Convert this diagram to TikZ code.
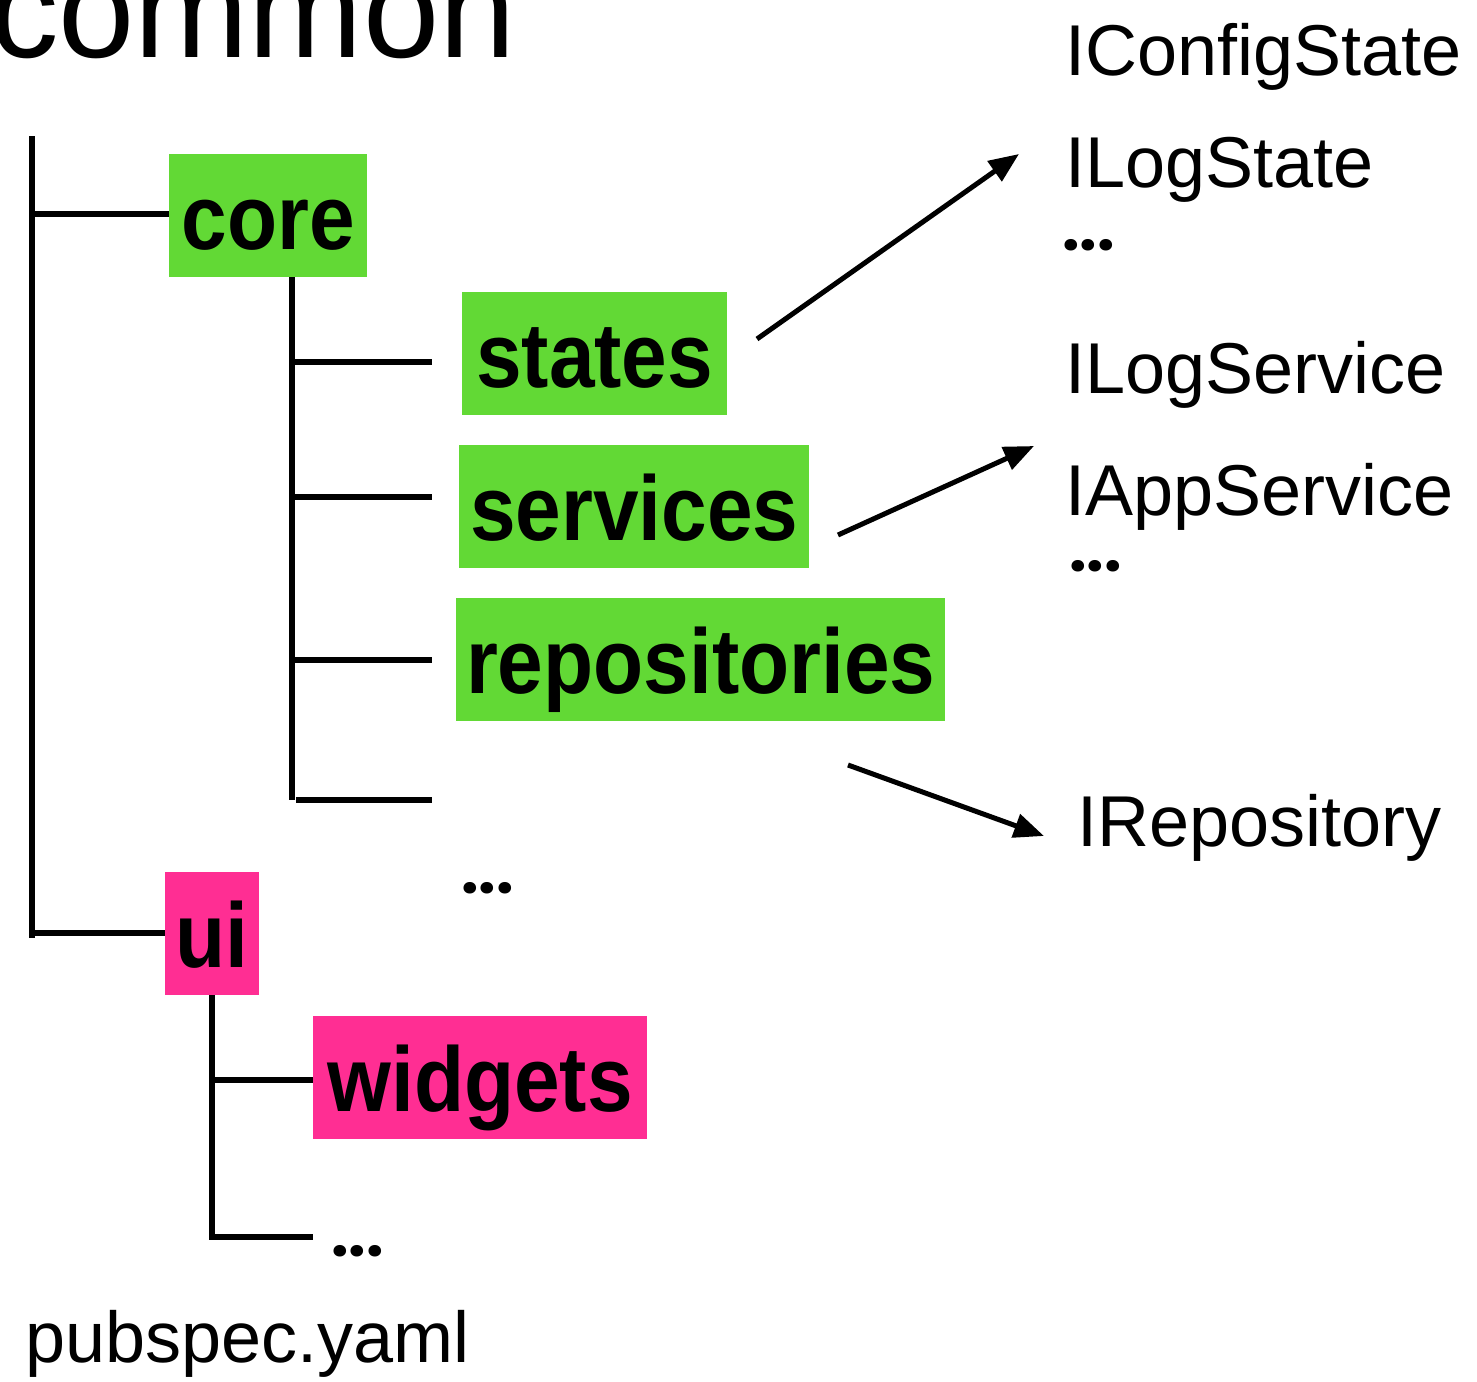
\documentclass[tikz,border=0pt]{standalone}
\usepackage{fontspec}
\setmainfont{Liberation Sans}
\newfontfamily\dotfont{Poppins}
\usetikzlibrary{arrows.meta}
\definecolor{coregreen}{RGB}{98,217,53}
\definecolor{uipink}{RGB}{255,46,147}
\newcommand\tallbold[1]{\scalebox{1}[1.12]{#1}}
\begin{document}
\begin{tikzpicture}[x=1pt,y=-1pt,
  tree/.style={line width=6.5pt},
  link/.style={line width=5pt,-{Triangle[length=30pt,width=24pt]}},
  folder/.style={anchor=north west, inner sep=0pt, minimum height=123pt,
    text height=95pt, text depth=28pt,
    font=\fontsize{82}{82}\selectfont\bfseries},
  greenbox/.style={folder, fill=coregreen},
  pinkbox/.style={folder, fill=uipink},
  iface/.style={anchor=base west, inner sep=0pt,
    font=\fontsize{72}{72}\selectfont},
  more/.style={inner sep=0pt, anchor=base west,
    font=\dotfont\fontsize{62}{62}\selectfont\bfseries}
]
\clip (0,0) rectangle (1477,1381);

% root folder name, partly cut by the page edge
\node[anchor=base west, inner sep=0pt, font=\fontsize{137}{137}\selectfont]
  (common) at (-10,57) {common};

% folder boxes
\node[greenbox, minimum width=198pt] (core) at (169,154) {\tallbold{core}};
\node[greenbox, minimum width=265pt] (states) at (462,292) {\tallbold{states}};
\node[greenbox, minimum width=350pt] (services) at (459,445) {\tallbold{services}};
\node[greenbox, minimum width=489pt] (repos) at (456,598) {\tallbold{repositories}};
\node[pinkbox, minimum width=94pt] (ui) at (165,872) {\tallbold{ui}};
\node[pinkbox, minimum width=334pt] (widgets) at (313,1016) {\tallbold{widgets}};

% ellipses for further entries
\node[more] (coremore) at (461,893) {...};
\node[more] (uimore) at (331,1256) {...};

% project file
\node[iface] (pubspec) at (25,1362) {pubspec.yaml};

% interface names
\node[iface] (configstate) at (1065,75) {IConfigState};
\node[iface] (logstate) at (1065,187) {ILogState};
\node[more] (statemore) at (1062,250) {...};
\node[iface] (logservice) at (1065,393) {ILogService};
\node[iface] (appservice) at (1065,515) {IAppService};
\node[more] (servicemore) at (1069,571) {...};
\node[iface] (repository) at (1077,846) {IRepository};

% tree lines
\coordinate (rootTop) at (32,136);
\coordinate (rootEnd) at (32,938);
\draw[tree] (rootTop) -- (rootEnd);
\draw[tree] (32,214) -- (core.west |- 0,214);
\draw[tree] (32,933) -- (ui.west |- 0,933);

\coordinate (coreTop) at (292,277);
\coordinate (coreEnd) at (292,800);
\draw[tree] (coreTop) -- (coreEnd);
\coordinate (bStates) at (432,362);
\coordinate (bServices) at (432,497);
\coordinate (bRepos) at (432,660);
\coordinate (bMore) at (432,800);
\draw[tree] (bStates -| coreTop) -- (bStates);
\draw[tree] (bServices -| coreTop) -- (bServices);
\draw[tree] (bRepos -| coreTop) -- (bRepos);
\draw[tree] (296,800) -- (bMore);

\coordinate (uiTop) at (212,995);
\coordinate (uiEnd) at (212,1240);
\draw[tree] (uiTop) -- (uiEnd);
\draw[tree] (212,1080) -- (widgets.west |- 0,1080);
\coordinate (bUiMore) at (313,1237);
\draw[tree] (215,1237) -- (bUiMore);

% arrows to the interfaces
\coordinate (s1) at (757,339);
\coordinate (e1) at (1019,154);
\coordinate (s2) at (838,535);
\coordinate (e2) at (1034,446);
\coordinate (s3) at (848,765);
\coordinate (e3) at (1044,836);
\draw[link] (s1) -- (e1);
\draw[link] (s2) -- (e2);
\draw[link] (s3) -- (e3);
\end{tikzpicture}
\end{document}
